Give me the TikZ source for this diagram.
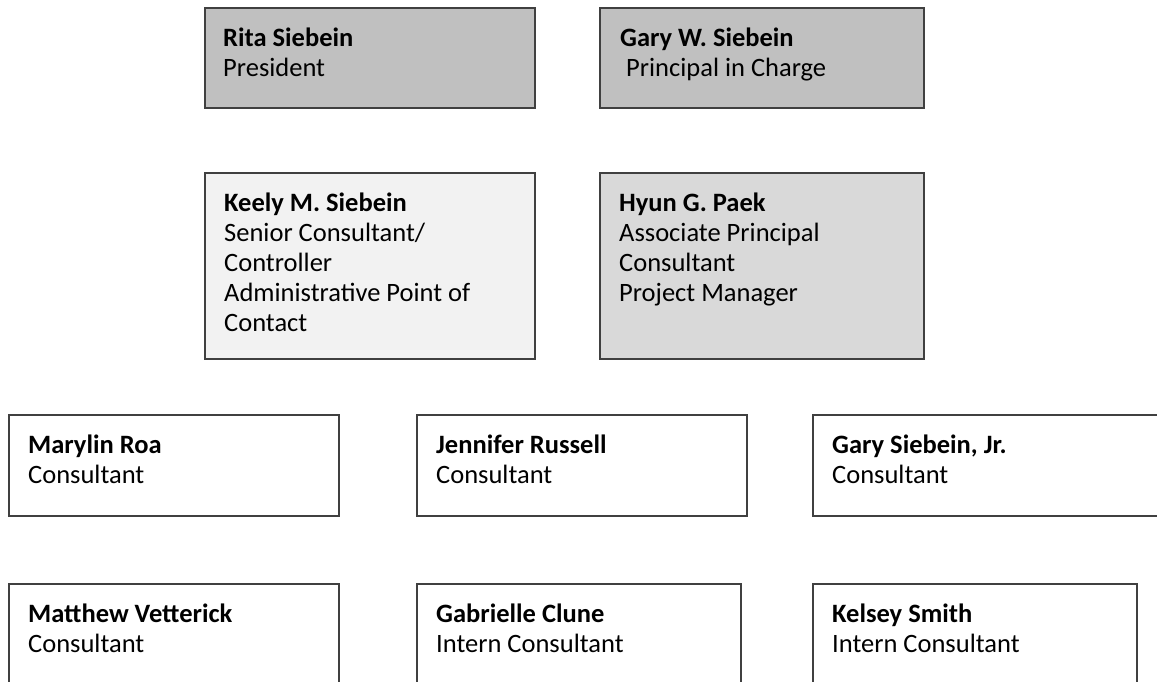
\documentclass[tikz,border=0pt]{standalone}
\usepackage{fontspec}
\setmainfont{Carlito}
\definecolor{cardline}{HTML}{404040}
\definecolor{topgray}{HTML}{C0C0C0}
\definecolor{midgray}{HTML}{D9D9D9}
\definecolor{lightgray}{HTML}{F2F2F2}
\begin{document}
\begin{tikzpicture}[x=1pt, y=-1pt,
    card/.style={draw=cardline, line width=1.6pt, anchor=north west, inner sep=0pt},
    who/.style={anchor=north west, inner sep=0pt, align=left, font=\fontsize{26.5}{30}\selectfont}]
        \useasboundingbox (0,0) rectangle (1157,681);
        \clip (0,0) rectangle (1157,681);
        % top row
        \node[card, fill=topgray, minimum width=330pt, minimum height=100pt] (rita) at (204,7) {};
        \node[card, fill=topgray, minimum width=324pt, minimum height=100pt] (gary) at (599,7) {};
        % second row
        \node[card, fill=lightgray, minimum width=330pt, minimum height=186pt] (keely) at (204,172) {};
        \node[card, fill=midgray, minimum width=324pt, minimum height=186pt] (hyun) at (599,172) {};
        % consultants
        \node[card, minimum width=330pt, minimum height=101pt] (marylin) at (8,414) {};
        \node[card, minimum width=330pt, minimum height=101pt] (jennifer) at (416,414) {};
        \node[card, minimum width=360pt, minimum height=101pt] (garyjr) at (812,414) {};
        \node[card, minimum width=330pt, minimum height=110pt] (matthew) at (8,583) {};
        \node[card, minimum width=324pt, minimum height=110pt] (gabrielle) at (416,583) {};
        \node[card, minimum width=324pt, minimum height=110pt] (kelsey) at (812,583) {};
        % names and titles
        \node[who] (rita-t) at ([shift={(19,21)}]rita.north west) {\textbf{Rita Siebein}\\President};
        \node[who] (gary-t) at ([shift={(21,21)}]gary.north west) {\textbf{Gary W. Siebein}\\\ Principal in Charge};
        \node[who] (keely-t) at ([shift={(20,21)}]keely.north west) {\textbf{Keely M. Siebein}\\Senior Consultant/\\Controller\\Administrative Point of\\Contact};
        \node[who] (hyun-t) at ([shift={(20,21)}]hyun.north west) {\textbf{Hyun G. Paek}\\Associate Principal\\Consultant\\Project Manager};
        \node[who] (marylin-t) at ([shift={(20,21)}]marylin.north west) {\textbf{Marylin Roa}\\Consultant};
        \node[who] (jennifer-t) at ([shift={(20,21)}]jennifer.north west) {\textbf{Jennifer Russell}\\Consultant};
        \node[who] (garyjr-t) at ([shift={(20,21)}]garyjr.north west) {\textbf{Gary Siebein, Jr.}\\Consultant};
        \node[who] (matthew-t) at ([shift={(20,21)}]matthew.north west) {\textbf{Matthew Vetterick}\\Consultant};
        \node[who] (gabrielle-t) at ([shift={(20,21)}]gabrielle.north west) {\textbf{Gabrielle Clune}\\Intern Consultant};
        \node[who] (kelsey-t) at ([shift={(20,21)}]kelsey.north west) {\textbf{Kelsey Smith}\\Intern Consultant};
\end{tikzpicture}
\end{document}
